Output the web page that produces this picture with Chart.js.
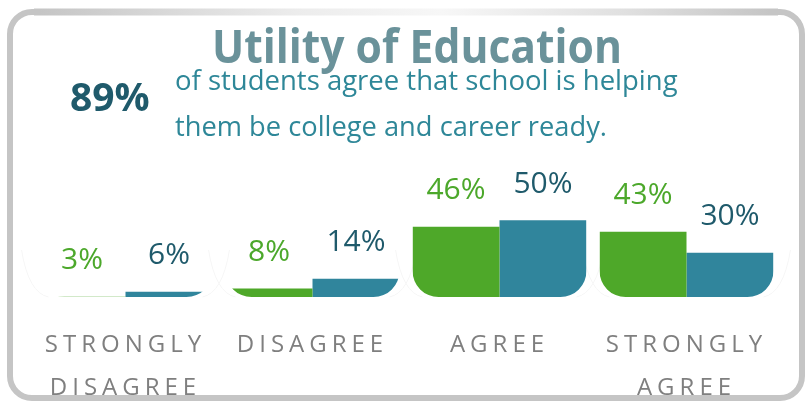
<!DOCTYPE html>
<html>
<head>
<meta charset="utf-8">
<script src="https://cdn.jsdelivr.net/npm/chart.js@4/dist/chart.umd.min.js"></script>
<style>
  html, body { margin: 0; padding: 0; background: #ffffff; }
  #wrap { position: relative; width: 807px; height: 405px; }
  canvas { display: block; }
</style>
</head>
<body>
<div id="wrap"><canvas id="c" width="807" height="405"></canvas></div>
<script>
// ---- data ----
const categories = [['STRONGLY', 'DISAGREE'], 'DISAGREE', 'AGREE', ['STRONGLY', 'AGREE']];
const seriesGreen = [3, 8, 46, 43];
const seriesBlue = [6, 14, 50, 30];
const seriesNames = ['Group 1', 'Group 2'];
const titleText = 'Utility of Education';
const headlineValue = '89%';
const headlineLines = ['of students agree that school is helping', 'them be college and career ready.'];

const GREEN = '#4ea829';
const BLUE = '#30859c';
const GREEN_LABEL = '#4ca82b';
const BLUE_LABEL = '#1f5a6b';

function groupBounds(chart) {
  const m0 = chart.getDatasetMeta(0), m1 = chart.getDatasetMeta(1);
  const out = [];
  for (let i = 0; i < m0.data.length; i++) {
    const a = m0.data[i].getProps(['x', 'width'], true);
    const b = m1.data[i].getProps(['x', 'width'], true);
    out.push([a.x - a.width / 2, b.x + b.width / 2]);
  }
  return out;
}

const decoPlugin = {
  id: 'deco',
  beforeDraw(chart) {
    const ctx = chart.ctx;
    ctx.save();
    // outer rounded frame
    ctx.lineWidth = 6;
    ctx.strokeStyle = '#c5c5c5';
    ctx.beginPath();
    ctx.roundRect(10, 12, 792, 386, 22);
    ctx.stroke();
    // lighter top edge in the middle
    const g = ctx.createLinearGradient(40, 0, 770, 0);
    g.addColorStop(0, '#c5c5c5');
    g.addColorStop(0.35, '#ececec');
    g.addColorStop(0.55, '#f7f7f7');
    g.addColorStop(0.8, '#e0e0e0');
    g.addColorStop(1, '#c5c5c5');
    ctx.strokeStyle = g;
    ctx.lineWidth = 7;
    ctx.beginPath();
    ctx.moveTo(34, 12);
    ctx.lineTo(778, 12);
    ctx.stroke();
    ctx.restore();
    // letter spacing for axis labels
    ctx.letterSpacing = '5px';
  },
  beforeDatasetsDraw(chart) {
    const ctx = chart.ctx;
    ctx.letterSpacing = '0px';
    const B = chart.chartArea.bottom;
    const bounds = groupBounds(chart);
    // faint bowl outlines
    ctx.save();
    ctx.strokeStyle = '#f6f6f6';
    ctx.lineWidth = 1;
    bounds.forEach(([L, R]) => {
      ctx.beginPath();
      ctx.moveTo(L - 17, B - 47);
      ctx.quadraticCurveTo(L - 10, B - 4, L + 10, B);
      ctx.stroke();
      ctx.beginPath();
      ctx.moveTo(R + 17, B - 47);
      ctx.quadraticCurveTo(R + 10, B - 4, R - 10, B);
      ctx.stroke();
    });
    ctx.restore();
    // clip bars into bowl shapes
    ctx.save();
    const r = 26;
    const top = 0;
    ctx.beginPath();
    bounds.forEach(([L, R]) => {
      ctx.moveTo(L, top);
      ctx.lineTo(R, top);
      ctx.lineTo(R, B - r);
      ctx.arcTo(R, B, R - r, B, r);
      ctx.lineTo(L + r, B);
      ctx.arcTo(L, B, L, B - r, r);
      ctx.closePath();
    });
    ctx.clip();
  },
  afterDatasetsDraw(chart) {
    const ctx = chart.ctx;
    ctx.restore();
    ctx.save();
    ctx.letterSpacing = '0px';
    ctx.font = '400 30px "Open Sans"';
    ctx.textAlign = 'center';
    ctx.textBaseline = 'middle';
    chart.data.datasets.forEach((ds, di) => {
      const meta = chart.getDatasetMeta(di);
      ctx.fillStyle = di === 0 ? GREEN_LABEL : BLUE_LABEL;
      meta.data.forEach((bar, i) => {
        const p = bar.getProps(['x', 'y'], true);
        ctx.fillText(ds.data[i] + '%', p.x, p.y - 36);
      });
    });
    ctx.restore();
  },
  afterDraw(chart) {
    const ctx = chart.ctx;
    ctx.save();
    ctx.letterSpacing = '0px';
    ctx.textBaseline = 'alphabetic';
    // title
    ctx.textAlign = 'center';
    ctx.fillStyle = '#6a929a';
    ctx.font = '700 47px "Open Sans"';
    ctx.fillText(titleText, 417, 63, 410);
    // headline number
    ctx.textAlign = 'left';
    ctx.fillStyle = '#1f5a6b';
    ctx.font = '700 39px "Open Sans"';
    ctx.fillText(headlineValue, 70, 111, 81);
    // headline text
    ctx.fillStyle = '#2e8798';
    ctx.font = '400 27.5px "Open Sans"';
    ctx.fillText(headlineLines[0], 175, 90, 503);
    ctx.fillText(headlineLines[1], 175, 136, 432);
    ctx.restore();
  }
};

new Chart(document.getElementById('c'), {
  type: 'bar',
  data: {
    labels: categories,
    datasets: [
      { label: seriesNames[0], data: seriesGreen, backgroundColor: GREEN, borderWidth: 0 },
      { label: seriesNames[1], data: seriesBlue, backgroundColor: BLUE, borderWidth: 0 }
    ]
  },
  options: {
    responsive: false,
    animation: false,
    devicePixelRatio: 1,
    layout: { padding: { top: 139, left: 32, right: 27, bottom: 0 } },
    plugins: { legend: { display: false }, tooltip: { enabled: false }, title: { display: false } },
    datasets: { bar: { categoryPercentage: 0.93, barPercentage: 1.0 } },
    scales: {
      x: {
        grid: { display: false, drawTicks: false },
        border: { display: false },
        ticks: {
          autoSkip: false, maxRotation: 0, minRotation: 0, padding: 27,
          color: '#7f7f7f',
          font: { family: '"Open Sans"', size: 24, weight: '400', lineHeight: '43px' }
        },
        afterFit(scale) { scale.height = 108; }
      },
      y: { display: false, min: 2.8, max: 100 }
    }
  },
  plugins: [decoPlugin]
});
</script>
</body>
</html>
